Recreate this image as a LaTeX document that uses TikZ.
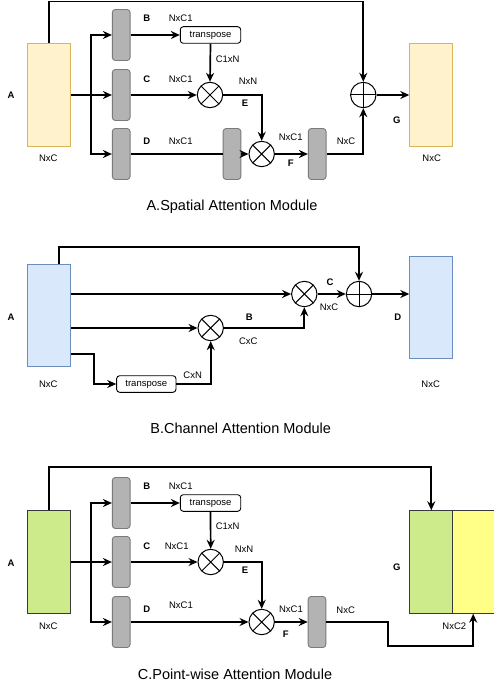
\documentclass[tikz,border=0pt]{standalone}
\usepackage{fontspec}
\setmainfont{Liberation Sans}
\usetikzlibrary{arrows.meta}
\definecolor{ybox}{HTML}{FFF2CC}
\definecolor{ybord}{HTML}{D6B656}
\definecolor{bbox}{HTML}{DAE8FC}
\definecolor{bbord}{HTML}{6C8EBF}
\definecolor{gbox}{HTML}{CDEB8B}
\definecolor{ylbox}{HTML}{FFFF88}
\definecolor{dbord}{HTML}{36393D}
\definecolor{grayf}{HTML}{B3B3B3}
\definecolor{grayd}{HTML}{7A7A7A}
\begin{document}
\begin{tikzpicture}[x=1pt,y=-1pt,line width=1.7pt,
 arr/.style={-{Stealth[length=9pt,width=8pt,inset=3pt]}},
 lbl/.style={font=\fontsize{9.5}{10}\selectfont, inner sep=0},
 blbl/.style={font=\fontsize{9.5}{10}\selectfont\bfseries, inner sep=0},
 ttl/.style={font=\fontsize{14.5}{16}\selectfont, inner sep=0},
 feat/.style={draw, line width=1pt, minimum width=43pt, minimum height=102.4pt, inner sep=0},
 conv/.style={draw=grayd, fill=grayf, rounded corners=3pt, minimum width=17.7pt, minimum height=51pt, inner sep=0, line width=0.9pt},
 tp/.style={draw, rounded corners=3pt, minimum width=60.4pt, minimum height=16.6pt, inner sep=0, line width=0.9pt, font=\fontsize{9.5}{10}\selectfont},
 mul/.style={circle, draw, minimum size=25.4pt, inner sep=0, line width=1pt,
   path picture={\draw[line width=1pt] (path picture bounding box.south west) -- (path picture bounding box.north east)
     (path picture bounding box.north west) -- (path picture bounding box.south east);}},
 add/.style={circle, draw, minimum size=25.4pt, inner sep=0, line width=1pt,
   path picture={\draw[line width=1pt] (path picture bounding box.north) -- (path picture bounding box.south)
     (path picture bounding box.west) -- (path picture bounding box.east);}}
]
\useasboundingbox (0,0) rectangle (493,690);

% ---------------- A. Spatial ----------------
\node[feat, draw=ybord, fill=ybox] (A1) at (49.2,95) {};
\node[feat, draw=ybord, fill=ybox] (G1) at (431.3,95) {};
\node[conv] (cB1) at (121.2,35) {};
\node[conv] (cC1) at (121.2,95) {};
\node[conv] (cD1) at (121.2,154) {};
\node[conv] (cP1) at (232,154) {};
\node[conv] (cF1) at (317.2,154) {};
\node[tp] (tp1) at (210.5,35) {transpose};
\node[mul] (m11) at (210,95) {};
\node[mul] (m12) at (261.7,154) {};
\node[add] (p1) at (363.3,95) {};
\coordinate (j1) at (90.7,95);
\coordinate (t1) at (200,1.5);

\draw (A1.east) -- (j1);
\draw[arr] (j1) |- (cB1.west);
\draw[arr] (j1) |- (cD1.west);
\draw[arr] (j1) -- (cC1.west);
\draw[arr] (A1.north) |- (t1) -| (p1.north);
\draw[arr] (cB1.east) -- (tp1.west);
\draw[arr] (tp1.south) -- (m11.north);
\draw[arr] (cC1.east) -- (m11.west);
\draw[arr] (m11.east) -| (m12.north);
\draw (cD1.east) -- (cP1.west);
\draw[arr] (cP1.east) -- (m12.west);
\draw[arr] (m12.east) -- (cF1.west);
\draw[arr] (cF1.east) -| (p1.south);
\draw[arr] (p1.east) -- (G1.west);

\node[blbl] (lA1) at (11,95.7) {A};
\node[lbl] (nA1) at (48.3,158.3) {NxC};
\node[blbl] (lB1) at (146.7,18.3) {B};
\node[lbl] (nB1) at (180.7,18.3) {NxC1};
\node[blbl] (lC1) at (146.7,79) {C};
\node[lbl] (nC1) at (180.7,79) {NxC1};
\node[blbl] (lD1) at (146.7,141.7) {D};
\node[lbl] (nD1) at (180.7,141.7) {NxC1};
\node[lbl] (nT1) at (227.7,59.3) {C1xN};
\node[lbl] (nN1) at (248,81.7) {NxN};
\node[blbl] (lE1) at (245,103.3) {E};
\node[lbl] (nF1) at (290.7,137.3) {NxC1};
\node[blbl] (lF1) at (290.7,163.3) {F};
\node[lbl] (nX1) at (346,141.7) {NxC};
\node[blbl] (lG1) at (396.7,120) {G};
\node[lbl] (nG1) at (431.7,158.3) {NxC};
\node[ttl] (T1) at (232,207) {A.Spatial Attention Module};

% ---------------- B. Channel ----------------
\node[feat, draw=bbord, fill=bbox] (A2) at (49.2,315.5) {};
\node[feat, draw=bbord, fill=bbox] (D2) at (431.3,307.2) {};
\node[mul] (m21) at (210.7,328) {};
\node[mul] (m22) at (304.3,294) {};
\node[add] (p2) at (359,294) {};
\node[tp, minimum width=59.3pt] (tp2) at (146.3,384) {transpose};
\coordinate (t2) at (200,247);
\coordinate (b3) at (94,354);

\draw[arr] ([xshift=10pt]A2.north) |- (t2) -| (p2.north);
\draw[arr] (A2.east |- m22.west) -- (m22.west);
\draw[arr] (A2.east |- m21.west) -- (m21.west);
\draw[arr] (A2.east |- b3) -- (b3) |- (tp2.west);
\draw[arr] (tp2.east) -| (m21.south);
\draw[arr] (m21.east) -| (m22.south);
\draw[arr] (m22.east) -- (p2.west);
\draw[arr] (p2.east) -- (p2.east -| D2.west);

\node[blbl] (lA2) at (11,317.3) {A};
\node[lbl] (nA2) at (48.3,384) {NxC};
\node[lbl] (nT2) at (192.7,375.7) {CxN};
\node[blbl] (lB2) at (249.3,317.3) {B};
\node[lbl] (nB2) at (248.3,341) {CxC};
\node[blbl] (lC2) at (330,282.7) {C};
\node[lbl] (nC2) at (329,307.3) {NxC};
\node[blbl] (lD2) at (397.7,317.3) {D};
\node[lbl] (nD2) at (430.7,384) {NxC};
\node[ttl] (T2) at (240.7,428.3) {B.Channel Attention Module};

% ---------------- C. Point-wise ----------------
\node[feat, draw=dbord, fill=gbox] (A3) at (49.2,562) {};
\node[feat, draw=dbord, fill=gbox] (Gg) at (431.3,562) {};
\node[feat, draw=dbord, fill=ylbox] (Gy) at (474.2,562) {};
\node[conv] (cB3) at (121.2,503) {};
\node[conv] (cC3) at (121.2,562) {};
\node[conv] (cD3) at (121.2,622) {};
\node[conv] (cF3) at (317,622) {};
\node[tp] (tp3) at (210.5,503) {transpose};
\node[mul] (m31) at (210.7,562) {};
\node[mul] (m32) at (261.7,622) {};
\coordinate (j3) at (90.7,562);
\coordinate (t3) at (200,467);
\coordinate (c3) at (388.3,646);

\draw (A3.east) -- (j3);
\draw[arr] (j3) |- (cB3.west);
\draw[arr] (j3) |- (cD3.west);
\draw[arr] (j3) -- (cC3.west);
\draw[arr] (A3.north) |- (t3) -| (Gg.north);
\draw[arr] (cB3.east) -- (tp3.west);
\draw[arr] (tp3.south) -- (m31.north);
\draw[arr] (cC3.east) -- (m31.west);
\draw[arr] (m31.east) -| (m32.north);
\draw[arr] (cD3.east) -- (m32.west);
\draw[arr] (m32.east) -- (cF3.west);
\draw[arr] (cF3.east) -| (c3) -| ([xshift=-1pt]Gy.south);

\node[blbl] (lA3) at (11,563.3) {A};
\node[lbl] (nA3) at (48.3,626.7) {NxC};
\node[blbl] (lB3) at (146.7,486.7) {B};
\node[lbl] (nB3) at (180.7,486.7) {NxC1};
\node[blbl] (lC3) at (146.7,546) {C};
\node[lbl] (nC3) at (176.7,546) {NxC1};
\node[blbl] (lD3) at (146.7,609) {D};
\node[lbl] (nD3) at (181,605) {NxC1};
\node[lbl] (nT3) at (227.7,526.7) {C1xN};
\node[lbl] (nN3) at (244,549.3) {NxN};
\node[blbl] (lE3) at (245,570.7) {E};
\node[lbl] (nF3) at (291,609) {NxC1};
\node[blbl] (lF3) at (285.7,634.3) {F};
\node[lbl] (nX3) at (345.7,610) {NxC};
\node[blbl] (lG3) at (396.7,567.3) {G};
\node[lbl] (nG3) at (454.3,626.7) {NxC2};
\node[ttl] (T3) at (235,674.3) {C.Point-wise Attention Module};
\end{tikzpicture}
\end{document}
